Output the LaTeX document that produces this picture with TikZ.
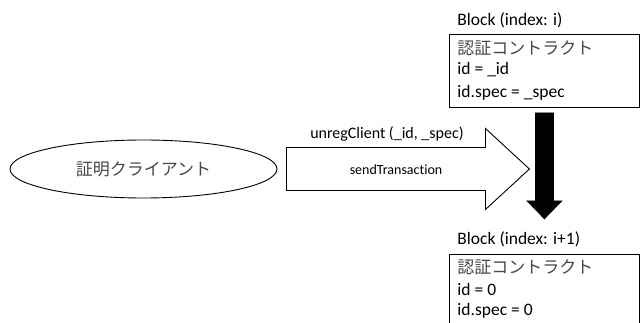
\documentclass[tikz,border=0pt]{standalone}
\usepackage{fontspec}
\setmainfont{Carlito}[Ligatures=NoCommon]
\newfontfamily\jp{Noto Sans CJK JP}
\usetikzlibrary{calc,shapes.geometric}
\begin{document}
\begin{tikzpicture}[x=1pt,y=-1pt,line width=0.9pt,
  blockbox/.style={draw, rectangle, minimum width=190pt, inner sep=0pt, anchor=north west},
  lbl/.style={font=\fontsize{17.5}{20}\selectfont, inner sep=0pt, anchor=west},
  jptxt/.style={font=\jp\fontsize{17}{20}\selectfont, text=black!72, inner sep=0pt},
  small/.style={inner sep=0pt}]
\clip (0,0) rectangle (641,323);

% block i
\node[blockbox, minimum height=73pt] (blk1) at (449,34) {};
\node[lbl] (cap1) at (457,20) {Block (index: i)};
\node[jptxt, anchor=west] (c1a) at (457,48) {認証コントラクト};
\node[lbl] (c1b) at (457,70) {id = \_id};
\node[lbl] (c1c) at (457,93) {id.spec = \_spec};

% block i+1
\node[blockbox, minimum height=90pt] (blk2) at (449,254) {};
\node[lbl] (cap2) at (457,239) {Block (index: i+1)};
\node[jptxt, anchor=west] (c2a) at (457,267) {認証コントラクト};
\node[lbl] (c2b) at (457,289) {id = 0};
\node[lbl] (c2c) at (457,311) {id.spec = 0};

% client
\node[draw, ellipse, minimum width=267pt, minimum height=58pt, inner sep=0pt,
      jptxt] (client) at (143.5,169) {証明クライアント};

% transaction block arrow
\coordinate (sendtail) at ($(client.east)+(9,0)$);
\draw[fill=white] ($(sendtail)+(0,-21.5)$) -- ++(199,0) -- ++(0,-19)
  -- ++(44,40.5) -- ++(-44,40.5) -- ++(0,-19) -- ++(-199,0) -- cycle;
\node[small, font=\fontsize{16}{18}\selectfont] (call) at (387,134) {unregClient (\_id, \_spec)};
\node[small, font=\fontsize{14}{16}\selectfont] (send) at (396,169.5) {sendTransaction};

% state transition arrow between blocks
\coordinate (dtop) at ($(blk1.south)+(0,5)$);
\filldraw[line width=0.6pt] ($(dtop)+(-9,0)$) -- ($(dtop)+(9,0)$) -- ($(dtop)+(9,88)$)
  -- ($(dtop)+(17.5,88)$) -- ($(dtop)+(0,106)$) -- ($(dtop)+(-17.5,88)$)
  -- ($(dtop)+(-9,88)$) -- cycle;
\end{tikzpicture}
\end{document}
